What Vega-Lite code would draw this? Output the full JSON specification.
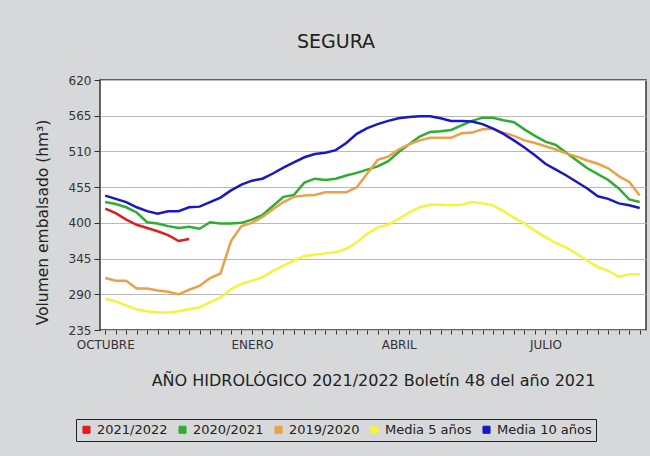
{
  "$schema": "https://vega.github.io/schema/vega-lite/v6.json",
  "width": 546,
  "height": 250,
  "autosize": {"type": "none"},
  "padding": {"left": 100, "top": 80, "right": 4, "bottom": 126},
  "background": "#d7d8da",
  "title": {
    "text": "SEGURA",
    "font": "DejaVu Sans",
    "fontSize": 19,
    "fontWeight": "normal",
    "color": "#222222",
    "baseline": "alphabetic",
    "offset": 7,
    "dx": -37,
    "anchor": "middle"
  },
  "config": {
    "font": "DejaVu Sans",
    "view": {"stroke": "#333333", "strokeWidth": 1.5, "fill": "#ffffff"},
    "axis": {"labelFont": "DejaVu Sans", "titleFont": "DejaVu Sans", "domainColor": "#333333", "tickColor": "#333333", "labelColor": "#333333", "titleColor": "#222222", "titleFontWeight": "normal"}
  },
  "data": {
    "values": [
      {"w": 0, "s": "2021/2022", "v": 422}, {"w": 1, "s": "2021/2022", "v": 415}, {"w": 2, "s": "2021/2022", "v": 405},
      {"w": 3, "s": "2021/2022", "v": 397}, {"w": 4, "s": "2021/2022", "v": 392}, {"w": 5, "s": "2021/2022", "v": 387},
      {"w": 6, "s": "2021/2022", "v": 381}, {"w": 7, "s": "2021/2022", "v": 372}, {"w": 8, "s": "2021/2022", "v": 375},

      {"w": 0, "s": "2020/2021", "v": 432}, {"w": 1, "s": "2020/2021", "v": 429}, {"w": 2, "s": "2020/2021", "v": 424},
      {"w": 3, "s": "2020/2021", "v": 416}, {"w": 4, "s": "2020/2021", "v": 401}, {"w": 5, "s": "2020/2021", "v": 399},
      {"w": 6, "s": "2020/2021", "v": 395}, {"w": 7, "s": "2020/2021", "v": 392}, {"w": 8, "s": "2020/2021", "v": 394},
      {"w": 9, "s": "2020/2021", "v": 391}, {"w": 10, "s": "2020/2021", "v": 401}, {"w": 11, "s": "2020/2021", "v": 399},
      {"w": 12, "s": "2020/2021", "v": 399}, {"w": 13, "s": "2020/2021", "v": 400}, {"w": 14, "s": "2020/2021", "v": 405},
      {"w": 15, "s": "2020/2021", "v": 412}, {"w": 16, "s": "2020/2021", "v": 426}, {"w": 17, "s": "2020/2021", "v": 440},
      {"w": 18, "s": "2020/2021", "v": 443}, {"w": 19, "s": "2020/2021", "v": 462}, {"w": 20, "s": "2020/2021", "v": 468},
      {"w": 21, "s": "2020/2021", "v": 466}, {"w": 22, "s": "2020/2021", "v": 468}, {"w": 23, "s": "2020/2021", "v": 473},
      {"w": 24, "s": "2020/2021", "v": 477}, {"w": 25, "s": "2020/2021", "v": 482}, {"w": 26, "s": "2020/2021", "v": 487},
      {"w": 27, "s": "2020/2021", "v": 495}, {"w": 28, "s": "2020/2021", "v": 509}, {"w": 29, "s": "2020/2021", "v": 521},
      {"w": 30, "s": "2020/2021", "v": 533}, {"w": 31, "s": "2020/2021", "v": 540}, {"w": 32, "s": "2020/2021", "v": 541},
      {"w": 33, "s": "2020/2021", "v": 543}, {"w": 34, "s": "2020/2021", "v": 550}, {"w": 35, "s": "2020/2021", "v": 557},
      {"w": 36, "s": "2020/2021", "v": 562}, {"w": 37, "s": "2020/2021", "v": 562}, {"w": 38, "s": "2020/2021", "v": 558},
      {"w": 39, "s": "2020/2021", "v": 555}, {"w": 40, "s": "2020/2021", "v": 544}, {"w": 41, "s": "2020/2021", "v": 534},
      {"w": 42, "s": "2020/2021", "v": 525}, {"w": 43, "s": "2020/2021", "v": 520}, {"w": 44, "s": "2020/2021", "v": 508},
      {"w": 45, "s": "2020/2021", "v": 496}, {"w": 46, "s": "2020/2021", "v": 484}, {"w": 47, "s": "2020/2021", "v": 475},
      {"w": 48, "s": "2020/2021", "v": 466}, {"w": 49, "s": "2020/2021", "v": 453}, {"w": 50, "s": "2020/2021", "v": 436},
      {"w": 51, "s": "2020/2021", "v": 432},

      {"w": 0, "s": "2019/2020", "v": 315}, {"w": 1, "s": "2019/2020", "v": 311}, {"w": 2, "s": "2019/2020", "v": 311},
      {"w": 3, "s": "2019/2020", "v": 299}, {"w": 4, "s": "2019/2020", "v": 299}, {"w": 5, "s": "2019/2020", "v": 296},
      {"w": 6, "s": "2019/2020", "v": 294}, {"w": 7, "s": "2019/2020", "v": 290}, {"w": 8, "s": "2019/2020", "v": 297},
      {"w": 9, "s": "2019/2020", "v": 303}, {"w": 10, "s": "2019/2020", "v": 315}, {"w": 11, "s": "2019/2020", "v": 322},
      {"w": 12, "s": "2019/2020", "v": 372}, {"w": 13, "s": "2019/2020", "v": 395}, {"w": 14, "s": "2019/2020", "v": 400},
      {"w": 15, "s": "2019/2020", "v": 409}, {"w": 16, "s": "2019/2020", "v": 421}, {"w": 17, "s": "2019/2020", "v": 432},
      {"w": 18, "s": "2019/2020", "v": 440}, {"w": 19, "s": "2019/2020", "v": 442}, {"w": 20, "s": "2019/2020", "v": 443},
      {"w": 21, "s": "2019/2020", "v": 447}, {"w": 22, "s": "2019/2020", "v": 447}, {"w": 23, "s": "2019/2020", "v": 447},
      {"w": 24, "s": "2019/2020", "v": 455}, {"w": 25, "s": "2019/2020", "v": 476}, {"w": 26, "s": "2019/2020", "v": 497},
      {"w": 27, "s": "2019/2020", "v": 502}, {"w": 28, "s": "2019/2020", "v": 513}, {"w": 29, "s": "2019/2020", "v": 521},
      {"w": 30, "s": "2019/2020", "v": 527}, {"w": 31, "s": "2019/2020", "v": 531}, {"w": 32, "s": "2019/2020", "v": 531},
      {"w": 33, "s": "2019/2020", "v": 531}, {"w": 34, "s": "2019/2020", "v": 538}, {"w": 35, "s": "2019/2020", "v": 539},
      {"w": 36, "s": "2019/2020", "v": 544}, {"w": 37, "s": "2019/2020", "v": 545}, {"w": 38, "s": "2019/2020", "v": 539},
      {"w": 39, "s": "2019/2020", "v": 534}, {"w": 40, "s": "2019/2020", "v": 527}, {"w": 41, "s": "2019/2020", "v": 523},
      {"w": 42, "s": "2019/2020", "v": 518}, {"w": 43, "s": "2019/2020", "v": 513}, {"w": 44, "s": "2019/2020", "v": 507},
      {"w": 45, "s": "2019/2020", "v": 502}, {"w": 46, "s": "2019/2020", "v": 496}, {"w": 47, "s": "2019/2020", "v": 491},
      {"w": 48, "s": "2019/2020", "v": 484}, {"w": 49, "s": "2019/2020", "v": 472}, {"w": 50, "s": "2019/2020", "v": 463},
      {"w": 51, "s": "2019/2020", "v": 442},

      {"w": 0, "s": "Media 5 años", "v": 283}, {"w": 1, "s": "Media 5 años", "v": 279}, {"w": 2, "s": "Media 5 años", "v": 273},
      {"w": 3, "s": "Media 5 años", "v": 267}, {"w": 4, "s": "Media 5 años", "v": 264}, {"w": 5, "s": "Media 5 años", "v": 262},
      {"w": 6, "s": "Media 5 años", "v": 262}, {"w": 7, "s": "Media 5 años", "v": 264}, {"w": 8, "s": "Media 5 años", "v": 267},
      {"w": 9, "s": "Media 5 años", "v": 270}, {"w": 10, "s": "Media 5 años", "v": 278}, {"w": 11, "s": "Media 5 años", "v": 285},
      {"w": 12, "s": "Media 5 años", "v": 298}, {"w": 13, "s": "Media 5 años", "v": 306}, {"w": 14, "s": "Media 5 años", "v": 311},
      {"w": 15, "s": "Media 5 años", "v": 316}, {"w": 16, "s": "Media 5 años", "v": 326}, {"w": 17, "s": "Media 5 años", "v": 334},
      {"w": 18, "s": "Media 5 años", "v": 342}, {"w": 19, "s": "Media 5 años", "v": 349}, {"w": 20, "s": "Media 5 años", "v": 351},
      {"w": 21, "s": "Media 5 años", "v": 353}, {"w": 22, "s": "Media 5 años", "v": 355}, {"w": 23, "s": "Media 5 años", "v": 360},
      {"w": 24, "s": "Media 5 años", "v": 370}, {"w": 25, "s": "Media 5 años", "v": 383}, {"w": 26, "s": "Media 5 años", "v": 393},
      {"w": 27, "s": "Media 5 años", "v": 397}, {"w": 28, "s": "Media 5 años", "v": 406}, {"w": 29, "s": "Media 5 años", "v": 416},
      {"w": 30, "s": "Media 5 años", "v": 424}, {"w": 31, "s": "Media 5 años", "v": 428}, {"w": 32, "s": "Media 5 años", "v": 428},
      {"w": 33, "s": "Media 5 años", "v": 427}, {"w": 34, "s": "Media 5 años", "v": 428}, {"w": 35, "s": "Media 5 años", "v": 432},
      {"w": 36, "s": "Media 5 años", "v": 430}, {"w": 37, "s": "Media 5 años", "v": 427}, {"w": 38, "s": "Media 5 años", "v": 418},
      {"w": 39, "s": "Media 5 años", "v": 408}, {"w": 40, "s": "Media 5 años", "v": 399}, {"w": 41, "s": "Media 5 años", "v": 388},
      {"w": 42, "s": "Media 5 años", "v": 378}, {"w": 43, "s": "Media 5 años", "v": 369}, {"w": 44, "s": "Media 5 años", "v": 362},
      {"w": 45, "s": "Media 5 años", "v": 352}, {"w": 46, "s": "Media 5 años", "v": 342}, {"w": 47, "s": "Media 5 años", "v": 332},
      {"w": 48, "s": "Media 5 años", "v": 326}, {"w": 49, "s": "Media 5 años", "v": 317}, {"w": 50, "s": "Media 5 años", "v": 321},
      {"w": 51, "s": "Media 5 años", "v": 321},

      {"w": 0, "s": "Media 10 años", "v": 442}, {"w": 1, "s": "Media 10 años", "v": 437}, {"w": 2, "s": "Media 10 años", "v": 432},
      {"w": 3, "s": "Media 10 años", "v": 424}, {"w": 4, "s": "Media 10 años", "v": 418}, {"w": 5, "s": "Media 10 años", "v": 414},
      {"w": 6, "s": "Media 10 años", "v": 418}, {"w": 7, "s": "Media 10 años", "v": 418}, {"w": 8, "s": "Media 10 años", "v": 424},
      {"w": 9, "s": "Media 10 años", "v": 425}, {"w": 10, "s": "Media 10 años", "v": 432}, {"w": 11, "s": "Media 10 años", "v": 439},
      {"w": 12, "s": "Media 10 años", "v": 450}, {"w": 13, "s": "Media 10 años", "v": 459}, {"w": 14, "s": "Media 10 años", "v": 465},
      {"w": 15, "s": "Media 10 años", "v": 468}, {"w": 16, "s": "Media 10 años", "v": 476}, {"w": 17, "s": "Media 10 años", "v": 485},
      {"w": 18, "s": "Media 10 años", "v": 493}, {"w": 19, "s": "Media 10 años", "v": 501}, {"w": 20, "s": "Media 10 años", "v": 506},
      {"w": 21, "s": "Media 10 años", "v": 508}, {"w": 22, "s": "Media 10 años", "v": 512}, {"w": 23, "s": "Media 10 años", "v": 523},
      {"w": 24, "s": "Media 10 años", "v": 537}, {"w": 25, "s": "Media 10 años", "v": 546}, {"w": 26, "s": "Media 10 años", "v": 552},
      {"w": 27, "s": "Media 10 años", "v": 557}, {"w": 28, "s": "Media 10 años", "v": 561}, {"w": 29, "s": "Media 10 años", "v": 563},
      {"w": 30, "s": "Media 10 años", "v": 564}, {"w": 31, "s": "Media 10 años", "v": 564}, {"w": 32, "s": "Media 10 años", "v": 561},
      {"w": 33, "s": "Media 10 años", "v": 557}, {"w": 34, "s": "Media 10 años", "v": 557}, {"w": 35, "s": "Media 10 años", "v": 556},
      {"w": 36, "s": "Media 10 años", "v": 552}, {"w": 37, "s": "Media 10 años", "v": 545}, {"w": 38, "s": "Media 10 años", "v": 537},
      {"w": 39, "s": "Media 10 años", "v": 527}, {"w": 40, "s": "Media 10 años", "v": 516}, {"w": 41, "s": "Media 10 años", "v": 504},
      {"w": 42, "s": "Media 10 años", "v": 491}, {"w": 43, "s": "Media 10 años", "v": 482}, {"w": 44, "s": "Media 10 años", "v": 473},
      {"w": 45, "s": "Media 10 años", "v": 463}, {"w": 46, "s": "Media 10 años", "v": 453}, {"w": 47, "s": "Media 10 años", "v": 441},
      {"w": 48, "s": "Media 10 años", "v": 437}, {"w": 49, "s": "Media 10 años", "v": 430}, {"w": 50, "s": "Media 10 años", "v": 427},
      {"w": 51, "s": "Media 10 años", "v": 423}
    ]
  },
  "mark": {"type": "line", "strokeWidth": 2.5, "clip": true},
  "encoding": {
    "x": {
      "field": "w",
      "type": "quantitative",
      "scale": {"domain": [-0.5, 51.6], "nice": false, "zero": false},
      "axis": {
        "values": [0,1,2,3,4,5,6,7,8,9,10,11,12,13,14,15,16,17,18,19,20,21,22,23,24,25,26,27,28,29,30,31,32,33,34,35,36,37,38,39,40,41,42,43,44,45,46,47,48,49,50,51],
        "labelExpr": "datum.value == 0 ? 'OCTUBRE' : datum.value == 14 ? 'ENERO' : datum.value == 28 ? 'ABRIL' : datum.value == 42 ? 'JULIO' : ''",
        "labelOverlap": false,
        "labelFontSize": 12,
        "labelPadding": 5,
        "tickSize": 4,
        "grid": false,
        "domain": false,
        "title": "AÑO HIDROLÓGICO 2021/2022 Boletín 48 del año 2021",
        "titleFontSize": 16,
        "titleBaseline": "alphabetic",
        "titleY": 55,
        "titleX": 273,
        "titleAlign": "center"
      }
    },
    "y": {
      "field": "v",
      "type": "quantitative",
      "scale": {"domain": [235, 620], "nice": false, "zero": false},
      "axis": {
        "values": [235, 290, 345, 400, 455, 510, 565, 620],
        "labelFontSize": 12,
        "labelPadding": 3,
        "tickSize": 6,
        "grid": true,
        "gridColor": "#b9b9b9",
        "gridWidth": 1.2,
        "domain": false,
        "title": "Volumen embalsado (hm³)",
        "titleFontSize": 15.5,
        "titleAngle": -90,
        "titleBaseline": "middle",
        "titleAlign": "center",
        "titleX": -58,
        "titleY": 142
      }
    },
    "color": {
      "field": "s",
      "type": "nominal",
      "scale": {
        "domain": ["2021/2022", "2020/2021", "2019/2020", "Media 5 años", "Media 10 años"],
        "range": ["#e01c1c", "#2eae2e", "#eba04a", "#f4f43c", "#1818c4"]
      },
      "legend": {
        "title": null,
        "orient": "none",
        "legendX": -24,
        "legendY": 339,
        "direction": "horizontal",
        "symbolType": "square",
        "symbolSize": 50,
        "symbolStrokeWidth": 1,
        "labelFontSize": 13,
        "labelColor": "#222222",
        "labelFont": "DejaVu Sans",
        "labelOffset": 4,
        "columnPadding": 8,
        "padding": 4,
        "strokeColor": "#222222",
        "encode": {
          "symbols": {
            "update": {
              "fill": {"scale": "color", "field": "value"},
              "stroke": {"value": "#222222"},
              "strokeWidth": {"value": 1},
              "fillOpacity": {"value": 1}
            }
          }
        }
      }
    }
  }
}
